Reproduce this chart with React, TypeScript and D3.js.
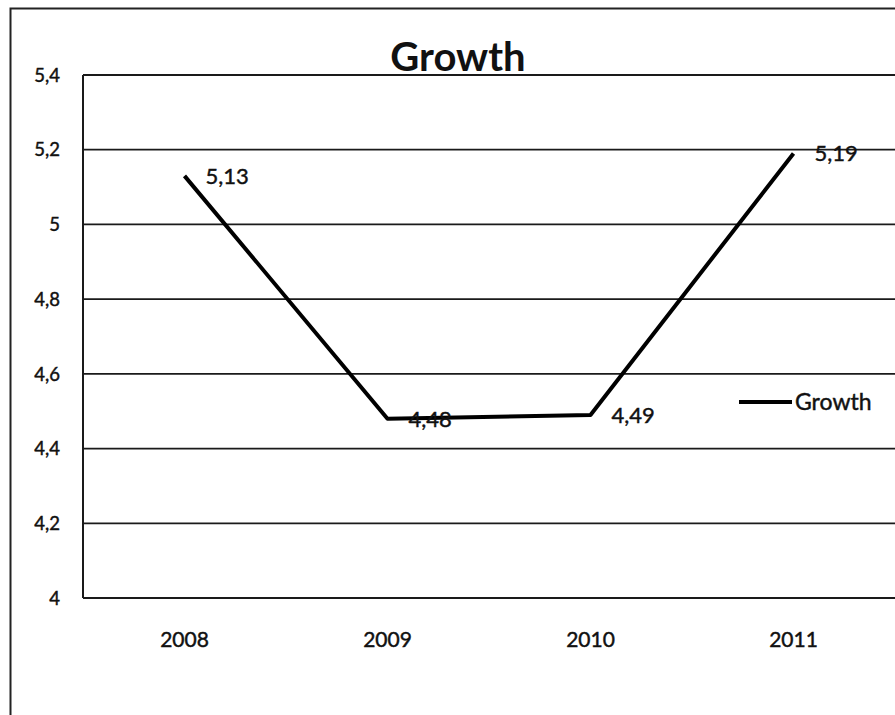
import React from "react";
import * as d3 from "d3";

const years = ["2008", "2009", "2010", "2011"];
const growth = [5.13, 4.48, 4.49, 5.19];
const growthLabels = ["5,13", "4,48", "4,49", "5,19"];
const yTicks = [4, 4.2, 4.4, 4.6, 4.8, 5, 5.2, 5.4];
const yTickLabels = ["4", "4,2", "4,4", "4,6", "4,8", "5", "5,2", "5,4"];
const seriesName = "Growth";
const title = "Growth";

const W = 895;
const H = 715;
const plotLeft = 83;
const plotTop = 75;
const plotBottom = 598;
const plotRight = 895;
const font = "Lato, 'Open Sans', sans-serif";
const heavy = { stroke: "#111", strokeWidth: 0.45 };

export default function App() {
  const x = d3.scaleBand<string>().domain(years).range([plotLeft, plotLeft + 4 * 203]).padding(0);
  const y = d3.scaleLinear().domain([4, 5.4]).range([plotBottom, plotTop]);
  const cx = (d: string) => (x(d) as number) + x.bandwidth() / 2;
  const line = d3
    .line<number>()
    .x((_, i) => cx(years[i]))
    .y((v) => y(v));

  return (
    <svg
      width={W}
      height={H}
      style={{ position: "absolute", left: 0, top: 0, background: "#fff" }}
    >
      <rect x={0} y={0} width={W} height={H} fill="#fff" />
      {/* outer frame */}
      <path d={`M10.5,${H} L10.5,8.5 L${W},8.5`} fill="none" stroke="#222" strokeWidth={2} />
      {/* title */}
      <text x={458} y={71} textAnchor="middle" fontFamily={font} fontWeight="bold" fontSize={40} fill="#111">
        {title}
      </text>
      {/* gridlines */}
      {yTicks.map((t) => (
        <line key={t} x1={plotLeft} x2={plotRight} y1={y(t)} y2={y(t)} stroke="#1a1a1a" strokeWidth={1.8} />
      ))}
      {/* left axis */}
      <line x1={plotLeft} x2={plotLeft} y1={plotTop} y2={plotBottom} stroke="#1a1a1a" strokeWidth={2} />
      {/* y labels */}
      {yTicks.map((t, i) => (
        <text
          key={"yl" + t}
          x={60}
          y={y(t)}
          dy="0.36em"
          textAnchor="end"
          fontFamily={font}
          fontSize={18.5}
          fill="#111"
          {...heavy}
        >
          {yTickLabels[i]}
        </text>
      ))}
      {/* x labels */}
      {years.map((yr) => (
        <text key={yr} x={cx(yr)} y={647} textAnchor="middle" fontFamily={font} fontSize={21} fill="#111" {...heavy}>
          {yr}
        </text>
      ))}
      {/* series line */}
      <path d={line(growth) || ""} fill="none" stroke="#000" strokeWidth={4} strokeLinejoin="round" />
      {/* data labels */}
      {growth.map((v, i) => (
        <text
          key={"dl" + i}
          x={cx(years[i]) + 21}
          y={y(v)}
          dy="0.36em"
          fontFamily={font}
          fontSize={22}
          fill="#111"
          {...heavy}
        >
          {growthLabels[i]}
        </text>
      ))}
      {/* legend */}
      <line x1={739} x2={792} y1={402} y2={402} stroke="#000" strokeWidth={4} />
      <text x={795} y={402} dy="0.36em" fontFamily={font} fontSize={23} fill="#111" {...heavy}>
        {seriesName}
      </text>
    </svg>
  );
}
